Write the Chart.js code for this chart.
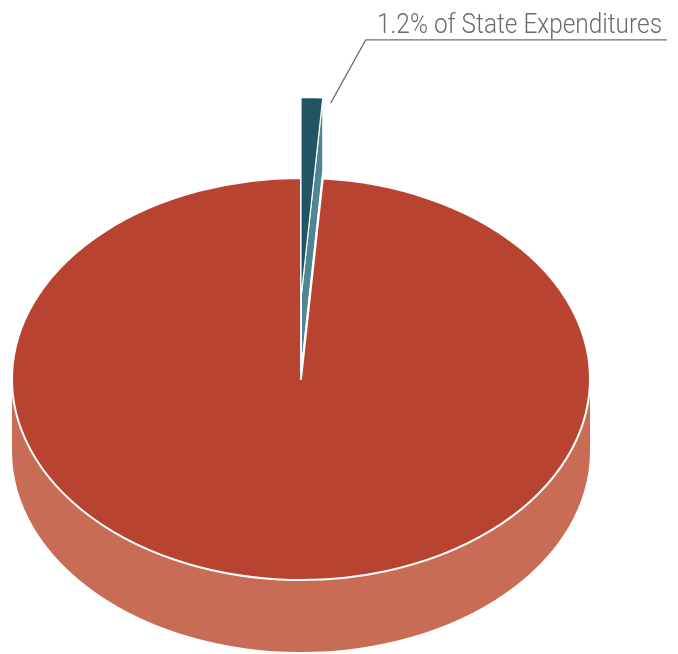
<!DOCTYPE html>
<html lang="en">
<head>
    <meta charset="UTF-8">
    <title>State Expenditures</title>
    <script src="https://cdn.jsdelivr.net/npm/chart.js"></script>
    <style>
        body {
            margin: 0;
            background: #fff;
        }
        canvas {
            display: block;
        }
    </style>
</head>
<body>
    <canvas id="pieChart" width="678" height="654"></canvas>

    <script>
        // Chart data
        const categories = ['All Other Spending', 'State Expenditures'];
        const values = [98.8, 1.2];
        const topColors = ['#b84331', '#215563'];
        const sideColors = ['#c86c56', '#4f8594'];
        const explode = [0, 116];

        // 3D look
        const TILT = 201 / 289;    // vertical squash of the disc
        const DEPTH = 72;          // thickness of the disc
        const CENTER_Y = 379;      // where the disc centre lands on screen

        // centre and radius of one slice after pulling it out
        // (pulled out along its leading edge)
        function geom(arc) {
            const off = arc.options.offset || 0;
            const dir = arc.startAngle;
            return {
                cx: arc.x + Math.cos(dir) * off,
                cy: arc.y + Math.sin(dir) * off,
                R: arc.outerRadius
            };
        }

        function project(arc, px, py, z) {
            return [px, CENTER_Y + (py - arc.y) * TILT + z];
        }

        // parts of [start, end] that lie on the front half (0..PI)
        function frontRanges(start, end) {
            const TAU = Math.PI * 2;
            const s = ((start % TAU) + TAU) % TAU;
            const e = s + (end - start);
            const out = [];
            [[0, Math.PI], [TAU, TAU + Math.PI]].forEach(([lo, hi]) => {
                const a = Math.max(s, lo), b = Math.min(e, hi);
                if (b > a) out.push([a - lo, b - lo]);
            });
            return out;
        }

        const pie3d = {
            id: 'pie3d',
            beforeDatasetsDraw(chart) {
                const ctx = chart.ctx;
                const arcs = chart.getDatasetMeta(0).data;

                // outer walls
                arcs.forEach((arc, i) => {
                    const g = geom(arc);
                    const [px, py] = project(arc, g.cx, g.cy, 0);
                    frontRanges(arc.startAngle, arc.endAngle).forEach(([a0, a1]) => {
                        ctx.beginPath();
                        ctx.ellipse(px, py, g.R, g.R * TILT, 0, a0, a1);
                        ctx.ellipse(px, py + DEPTH, g.R, g.R * TILT, 0, a1, a0, true);
                        ctx.closePath();
                        ctx.fillStyle = sideColors[i];
                        ctx.fill();
                    });
                });

                // cut faces that turn toward the viewer
                arcs.forEach((arc, i) => {
                    const g = geom(arc);
                    [arc.startAngle, arc.endAngle].forEach((a, k) => {
                        const c = Math.cos(a);
                        if ((k === 0 && c < -1e-6) || (k === 1 && c > 1e-6)) {
                            const inner = project(arc, g.cx, g.cy, 0);
                            const outer = project(arc, g.cx + g.R * Math.cos(a), g.cy + g.R * Math.sin(a), 0);
                            ctx.beginPath();
                            ctx.moveTo(inner[0], inner[1]);
                            ctx.lineTo(outer[0], outer[1]);
                            ctx.lineTo(outer[0], outer[1] + DEPTH);
                            ctx.lineTo(inner[0], inner[1] + DEPTH);
                            ctx.closePath();
                            ctx.fillStyle = sideColors[i];
                            ctx.fill();
                            ctx.lineWidth = 1;
                            ctx.strokeStyle = '#ffffff';
                            ctx.stroke();
                        }
                    });
                });

                // top faces
                arcs.forEach((arc) => {
                    const g = geom(arc);
                    const [px, py] = project(arc, g.cx, g.cy, 0);
                    ctx.beginPath();
                    ctx.moveTo(px, py);
                    ctx.ellipse(px, py, g.R, g.R * TILT, 0, arc.startAngle, arc.endAngle);
                    ctx.closePath();
                    ctx.fillStyle = arc.options.backgroundColor;
                    ctx.fill();
                    ctx.lineJoin = 'round';
                    ctx.lineWidth = arc.options.borderWidth;
                    ctx.strokeStyle = arc.options.borderColor;
                    ctx.stroke();
                });

                return false;
            },
            afterDraw(chart) {
                const ctx = chart.ctx;
                const arc = chart.getDatasetMeta(0).data[1];
                const g = geom(arc);
                const [ax, ay] = project(arc, g.cx + g.R * Math.cos(arc.endAngle),
                    g.cy + g.R * Math.sin(arc.endAngle), 0);

                // leader line
                const x0 = ax + 8, y0 = ay + 5;
                const ex = x0 + 35, ey = y0 - 63;
                ctx.save();
                ctx.strokeStyle = '#707070';
                ctx.lineWidth = 1.3;
                ctx.beginPath();
                ctx.moveTo(x0, y0);
                ctx.lineTo(ex, ey);
                ctx.lineTo(667, ey);
                ctx.stroke();

                // label, squeezed to a condensed width
                const text = values[1] + '% of ' + categories[1];
                ctx.font = '300 28px Roboto';
                const w = ctx.measureText(text).width;
                ctx.translate(662, ey - 7);
                ctx.scale(285 / w, 1);
                ctx.textAlign = 'right';
                ctx.textBaseline = 'alphabetic';
                ctx.fillStyle = '#6b6b6b';
                ctx.fillText(text, 0, 0);
                ctx.restore();
            }
        };

        const ctx = document.getElementById('pieChart').getContext('2d');
        new Chart(ctx, {
            type: 'pie',
            data: {
                labels: categories,
                datasets: [{
                    data: values,
                    backgroundColor: topColors,
                    borderColor: '#ffffff',
                    borderWidth: [2, 1.2],
                    offset: explode,
                    hoverOffset: 0
                }]
            },
            options: {
                responsive: false,
                animation: false,
                radius: 289,
                rotation: 360 * values[1] / 100,
                layout: {
                    padding: { left: 0, right: 76, top: 0, bottom: 0 }
                },
                plugins: {
                    legend: { display: false },
                    tooltip: { enabled: false }
                }
            },
            plugins: [pie3d]
        });
    </script>
</body>
</html>
